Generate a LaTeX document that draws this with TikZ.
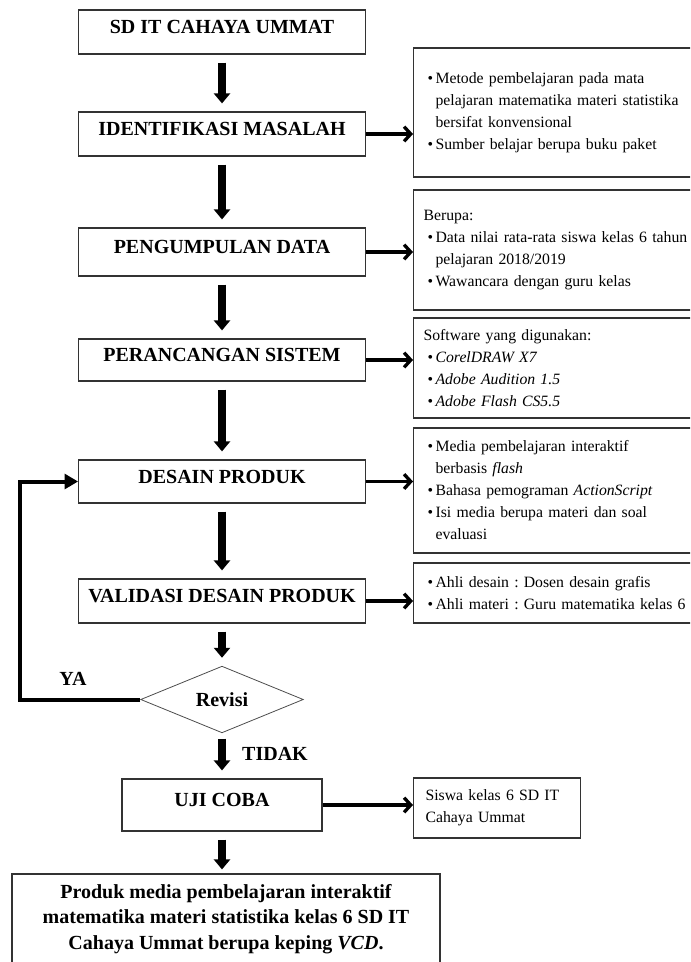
\documentclass[tikz,border=0pt]{standalone}
\usepackage{fontspec}
\setmainfont{Liberation Serif}
\usetikzlibrary{arrows.meta, positioning, shapes.geometric}

\newcommand{\bul}{\hspace*{3pt}\makebox[6pt][l]{\textbullet}}
\newcommand{\ind}{\hspace*{9pt}}

\tikzset{
  mainbox/.style={draw=black!80, line width=0.9pt, minimum width=215pt, inner sep=0pt,
    text height=10pt, text depth=7.5pt, font=\fontsize{15}{18}\selectfont\bfseries},
  resultbox/.style={draw=black!80, line width=0.9pt, minimum width=321pt, minimum height=67.5pt,
    inner sep=0pt, align=center, font=\fontsize{15}{19}\selectfont\bfseries},
  sidebox/.style={draw=black!80, line width=0.9pt, anchor=west, align=left, text width=205pt,
    inner xsep=7.5pt, inner ysep=2pt, font=\fontsize{11.8}{16.5}\selectfont\frenchspacing},
  decision/.style={diamond, draw=black!70, line width=0.6pt, minimum width=122pt,
    minimum height=50pt, inner sep=0pt, font=\fontsize{15}{18}\selectfont\bfseries},
  flowarrow/.style={line width=6pt, -{Triangle[width=12pt,length=7.5pt]}, shorten <=6pt, shorten >=6pt},
  sidearrow/.style={line width=2.5pt, -{Straight Barb[length=5pt,width=11pt]}},
  backarrow/.style={line width=3pt, -{Triangle[width=11pt,length=10pt]}},
  lbl/.style={font=\fontsize{15}{18}\selectfont\bfseries}
}

\begin{document}
\begin{tikzpicture}[x=0.75pt, y=-0.75pt]
    \clip (0,0) rectangle (690,962);

    % main flow
    \node[mainbox, minimum height=33pt] (sdit) at (222,32) {SD IT CAHAYA UMMAT};
    \node[mainbox, minimum height=33pt] (ident) at (222,134) {IDENTIFIKASI MASALAH};
    \node[mainbox, minimum height=36pt] (kumpul) at (222,252) {PENGUMPULAN DATA};
    \node[mainbox, minimum height=31.5pt] (rancang) at (222,360) {PERANCANGAN SISTEM};
    \node[mainbox, minimum height=32.25pt] (desain) at (222,481.5) {DESAIN PRODUK};
    \node[mainbox, minimum height=33pt] (valid) at (222,601) {VALIDASI DESAIN PRODUK};
    \node[decision] (revisi) at (222,699.5) {Revisi};
    \node[mainbox, minimum width=150pt, minimum height=39pt] (uji) at (222,805) {UJI COBA};
    \node[resultbox] (produk) at (226,919) {Produk media pembelajaran interaktif\\
        matematika materi statistika kelas 6 SD IT\\
        Cahaya Ummat berupa keping \textit{VCD}.};

    % side notes
    \node[sidebox, minimum height=96.75pt] (masalah) at (413,112.5) {\bul Metode pembelajaran pada mata\\
        \ind pelajaran matematika materi statistika\\
        \ind bersifat konvensional\\
        \bul Sumber belajar berupa buku paket};
    \node[sidebox, minimum height=90pt] (data) at (413,250) {Berupa:\\
        \bul Data nilai rata-rata siswa kelas 6 tahun\\
        \ind pelajaran 2018/2019\\
        \bul Wawancara dengan guru kelas};
    \node[sidebox, minimum height=75pt] (software) at (413,368) {Software yang digunakan:\\
        \bul \textit{CorelDRAW X7}\\
        \bul \textit{Adobe Audition 1.5}\\
        \bul \textit{Adobe Flash CS5.5}};
    \node[sidebox, minimum height=93.75pt] (media) at (413,490.5) {\bul Media pembelajaran interaktif\\
        \ind berbasis \textit{flash}\\
        \bul Bahasa pemograman \textit{ActionScript}\\
        \bul Isi media berupa materi dan soal\\
        \ind evaluasi};
    \node[sidebox, minimum height=45pt] (ahli) at (413,593) {\bul Ahli desain : Dosen desain grafis\\
        \bul Ahli materi : Guru matematika kelas 6};
    \node[sidebox, text width=107pt, inner xsep=9pt, minimum height=45pt] (siswa) at (413,808) {Siswa kelas 6 SD IT\\
        Cahaya Ummat};

    % labels
    \node[lbl] (ya) at (73,679) {YA};
    \node[lbl] (tidak) at (275,754) {TIDAK};

    % arrows down
    \draw[flowarrow] (sdit.south) -- (ident.north);
    \draw[flowarrow] (ident.south) -- (kumpul.north);
    \draw[flowarrow] (kumpul.south) -- (rancang.north);
    \draw[flowarrow] (rancang.south) -- (desain.north);
    \draw[flowarrow] (desain.south) -- (valid.north);
    \draw[flowarrow] (valid.south) -- (revisi.north);
    \draw[flowarrow, shorten <=4pt] (revisi.south) -- (uji.north);
    \draw[flowarrow, shorten >=3pt] (uji.south) -- (uji.south |- produk.north);

    % arrows right
    \draw[sidearrow] (ident.east) -- (ident.east -| masalah.west);
    \draw[sidearrow] (kumpul.east) -- (kumpul.east -| data.west);
    \draw[sidearrow] (rancang.east) -- (rancang.east -| software.west);
    \draw[sidearrow] (desain.east) -- (desain.east -| media.west);
    \draw[sidearrow] (valid.east) -- (valid.east -| ahli.west);
    \draw[sidearrow] (uji.east) -- (uji.east -| siswa.west);

    % revisi loop
    \coordinate (kiri) at (20,699.5);
    \draw[backarrow] (revisi.west) -- (kiri) |- (desain.west);
\end{tikzpicture}
\end{document}
